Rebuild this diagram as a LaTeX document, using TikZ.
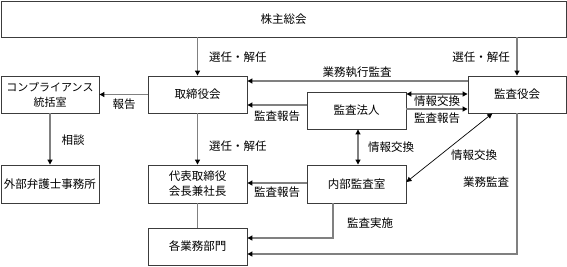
\documentclass[tikz,border=0pt]{standalone}
\usepackage{fontspec}
\setmainfont{Noto Sans CJK JP}
\usetikzlibrary{arrows.meta,calc}
\definecolor{boxline}{HTML}{3C3C3C}
\definecolor{linkgray}{HTML}{808080}

\begin{document}
\begin{tikzpicture}[x=1pt,y=-1pt,
  box/.style={draw=boxline,line width=0.9pt,fill=white,minimum width=99pt,
    minimum height=37pt,inner sep=0pt,align=center,
    font=\fontsize{11.5}{15}\selectfont},
  lbl/.style={inner sep=1pt,font=\fontsize{11.5}{13}\selectfont},
  link/.style={draw=linkgray,line width=1.1pt},
  arr/.style={link,-{Triangle[length=5pt,width=5pt,color=black]}},
  both/.style={link,{Triangle[length=5pt,width=5pt,color=black]}-{Triangle[length=5pt,width=5pt,color=black]}}]
\useasboundingbox (0,0) rectangle (567,266);
% boxes
\node[box,minimum width=565pt,minimum height=36pt] (soukai) at (283.5,19) {株主総会};
\node[box] (torishimari) at (197.5,94.5) {取締役会};
\node[box,minimum width=98pt,font=\fontsize{11}{15}\selectfont] (comp) at (50,94.5) {コンプライアンス\\統括室};
\node[box,minimum width=98pt] (kansayaku) at (517,94.5) {監査役会};
\node[box] (houjin) at (356.5,110.5) {監査法人};
\node[box,minimum width=98pt,minimum height=38pt] (bengoshi) at (50,184) {外部弁護士事務所};
\node[box,minimum height=38pt] (daihyo) at (197.5,184) {代表取締役\\会長兼社長};
\node[box,minimum height=38pt] (naibu) at (356.5,184) {内部監査室};
\node[box] (bumon) at (197.5,246.5) {各業務部門};
% upper connectors
\draw[arr] (torishimari.north |- soukai.south) -- (torishimari.north);
\draw[arr] (kansayaku.north |- soukai.south) -- (kansayaku.north);
\draw[arr] (torishimari.west) -- (comp.east);
\draw[arr] (kansayaku.west |- 0,81) -- (torishimari.east |- 0,81);
\draw[arr] (houjin.west |- 0,105) -- (torishimari.east |- 0,105);
\draw[both] (houjin.east |- 0,94) -- (kansayaku.west |- 0,94);
\draw[arr] (houjin.east |- 0,109) -- (kansayaku.west |- 0,109);
% lower connectors
\draw[arr] (comp.south) -- (bengoshi.north);
\draw[arr] (torishimari.south) -- (daihyo.north);
\draw[link] (daihyo.south) -- (bumon.north);
\draw[arr] (naibu.west |- 0,183) -- (daihyo.east |- 0,183);
\draw[both] (358,0 |- houjin.south) -- (358,0 |- naibu.north);
\draw[{Triangle[length=5pt,width=5pt]}-{Triangle[length=5pt,width=5pt]},line width=0.7pt]
  (naibu.east |- 0,182) -- ($(kansayaku.south west)!0.25!(kansayaku.south east)$);
\coordinate (kcorner) at (kansayaku.south |- 0,254);
\draw[arr] (kansayaku.south) -- (kcorner) -- (bumon.east |- kcorner);
\coordinate (ncorner) at (333,238);
\draw[arr] (naibu.south -| ncorner) -- (ncorner) -- (bumon.east |- ncorner);
% labels
\node[lbl,anchor=west] at (208,57) {選任・解任};
\node[lbl,anchor=east] at (511,57) {選任・解任};
\node[lbl] at (124,104) {報告};
\node[lbl] at (357,72) {業務執行監査};
\node[lbl] at (277,116) {監査報告};
\node[lbl] at (437,101) {情報交換};
\node[lbl] at (437,118) {監査報告};
\node[lbl] at (73,140) {相談};
\node[lbl,anchor=west] at (208,146) {選任・解任};
\node[lbl] at (277,192) {監査報告};
\node[lbl] at (391,147) {情報交換};
\node[lbl] at (474,155) {情報交換};
\node[lbl] at (486,182) {業務監査};
\node[lbl] at (370,223) {監査実施};
\end{tikzpicture}
\end{document}
